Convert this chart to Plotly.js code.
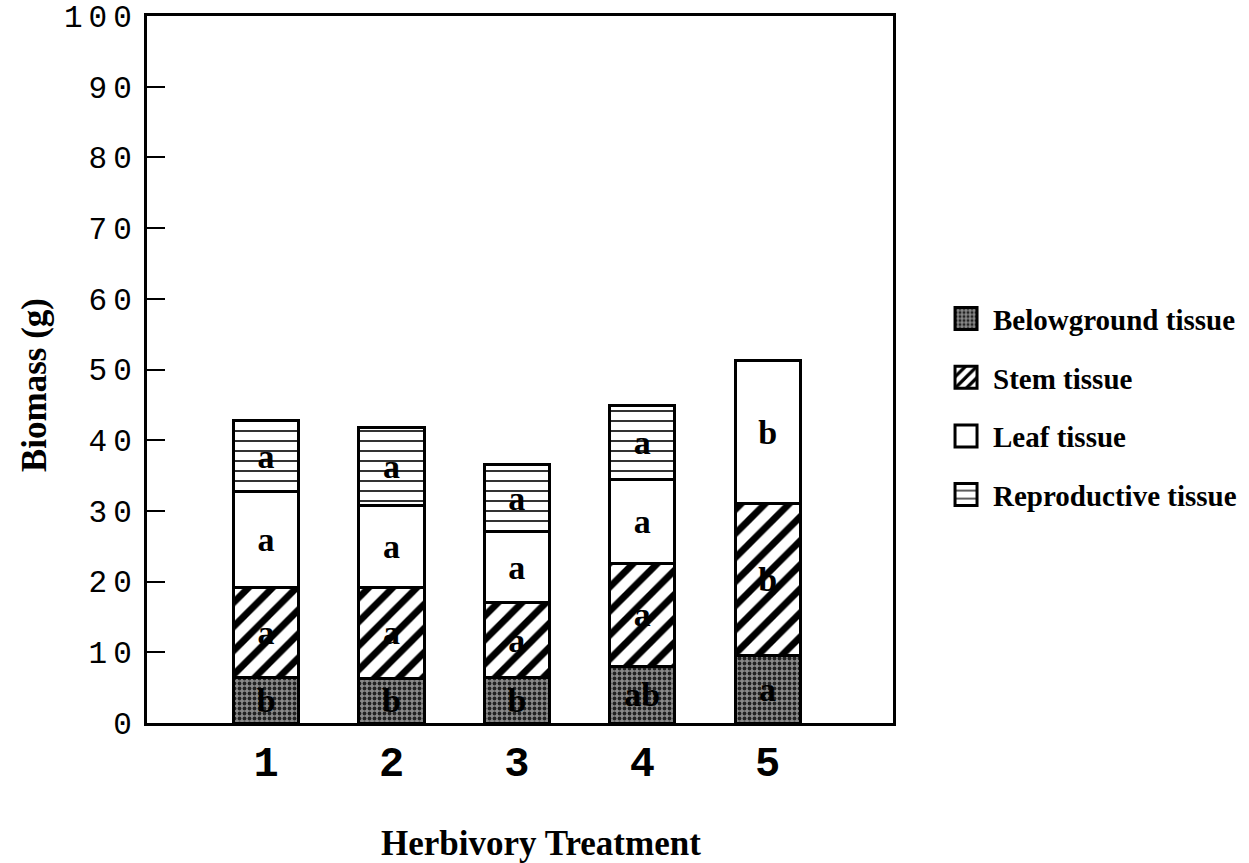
<!DOCTYPE html>
<html>
<head>
<meta charset="utf-8">
<script src="https://cdn.plot.ly/plotly-3.0.1.min.js"></script>
<style>
html,body{margin:0;padding:0;background:#fff;}
#chart{width:1249px;height:863px;}
#chart .ytick text{letter-spacing:6px;}
#chart .legend .legendpoints path{d:path("M11,11H-11V-11H11Z");}
</style>
</head>
<body>
<div id="chart"></div>
<script>
const treatments = [1, 2, 3, 4, 5];
const belowground = [6.4, 6.3, 6.4, 8.0, 9.5];
const stem = [12.8, 12.9, 10.6, 14.6, 21.5];
const leaf = [13.5, 11.6, 10.1, 11.9, 20.3];
const reproductive = [10.1, 11.0, 9.4, 10.4, 0];
const belowLetters = ['b', 'b', 'b', 'ab', 'a'];
const stemLetters = ['a', 'a', 'a', 'a', 'b'];
const leafLetters = ['a', 'a', 'a', 'a', 'b'];
const reproLetters = ['a', 'a', 'a', 'a', ''];
const yTicks = [0, 10, 20, 30, 40, 50, 60, 70, 80, 90, 100];

const serif = 'Liberation Serif, Times New Roman, serif';
const mono = 'Liberation Mono, Courier New, monospace';
const letterFont = {family: serif, size: 34, color: '#000', weight: 'bold'};

function barTrace(name, vals, letters, pattern, bg, group) {
  const marker = {color: bg, line: {color: '#000', width: 3}};
  if (pattern) marker.pattern = pattern;
  return {
    type: 'bar', name: name, x: treatments, y: vals,
    width: 0.52, legendgroup: group,
    text: letters, textposition: 'inside', insidetextanchor: 'middle',
    textangle: 0, constraintext: 'none',
    textfont: letterFont,
    marker: marker,
    hoverinfo: 'skip'
  };
}

const traces = [
  barTrace('Belowground tissue', belowground, belowLetters,
    {shape: '.', bgcolor: '#8a8a8a', fgcolor: '#222', size: 5, solidity: 0.45}, '#8a8a8a', 'g1'),
  barTrace('Stem tissue', stem, stemLetters,
    {shape: '/', bgcolor: '#fff', fgcolor: '#000', size: 17, solidity: 0.4}, '#fff', 'g2'),
  barTrace('Leaf tissue', leaf, leafLetters, null, '#fff', 'g3'),
  barTrace('Reproductive tissue', reproductive, reproLetters,
    {shape: '-', bgcolor: '#fff', fgcolor: '#333', size: 10, solidity: 0.2}, '#fff', 'g4')
];

const layout = {
  width: 1249, height: 863,
  margin: {l: 147, r: 356, t: 16, b: 140, autoexpand: false},
  paper_bgcolor: '#fff', plot_bgcolor: '#fff',
  barmode: 'stack',
  showlegend: true,
  legend: {
    x: 1.0617, xanchor: 'left', y: 0.608, yanchor: 'top',
    traceorder: 'grouped', tracegroupgap: 18,
    font: {family: serif, size: 29, color: '#000', weight: 'bold'},
    itemwidth: 44
  },
  xaxis: {
    range: [0.05, 6.0],
    tickvals: treatments, ticktext: treatments.map(String),
    ticks: '', showgrid: false, zeroline: false,
    showline: true, linecolor: '#000', linewidth: 3, mirror: true,
    tickfont: {family: mono, size: 42, color: '#000', weight: 'bold'}
  },
  yaxis: {
    range: [0, 100],
    tickvals: yTicks, ticktext: yTicks.map(String),
    ticks: 'inside', ticklen: 18, tickwidth: 2, tickcolor: '#000',
    showgrid: false, zeroline: false,
    showline: true, linecolor: '#000', linewidth: 3, mirror: true,
    tickfont: {family: mono, size: 31, color: '#000'}
  },
  annotations: [{
    text: 'Herbivory Treatment', xref: 'paper', yref: 'paper',
    x: 0.528, y: -0.17, xanchor: 'center', yanchor: 'middle', showarrow: false,
    font: {family: serif, size: 35, color: '#000', weight: 'bold'}
  }, {
    text: 'Biomass (g)', xref: 'paper', yref: 'paper', textangle: -90,
    x: -0.1515, y: 0.478, xanchor: 'center', yanchor: 'middle', showarrow: false,
    font: {family: serif, size: 35, color: '#000', weight: 'bold'}
  }]
};

Plotly.newPlot('chart', traces, layout, {displayModeBar: false, staticPlot: true});
</script>
</body>
</html>
